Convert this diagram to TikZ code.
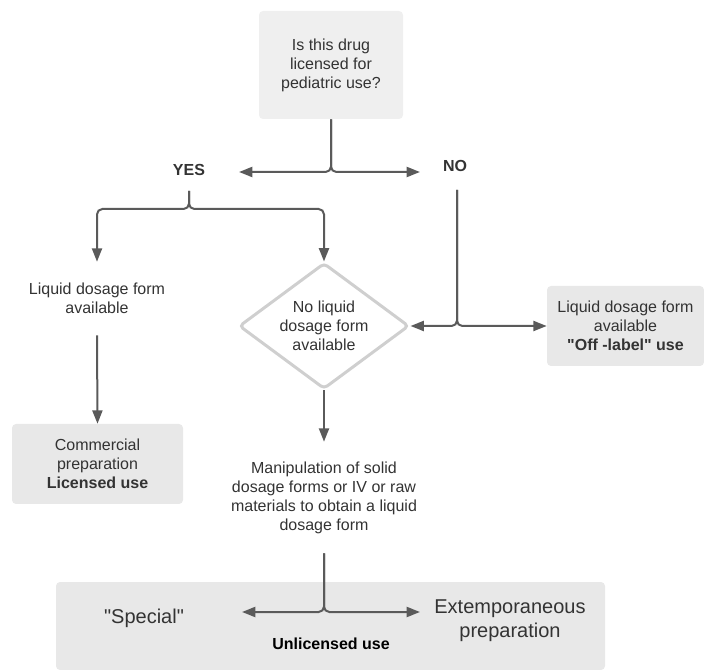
\documentclass[tikz,border=0pt]{standalone}
\usepackage{fontspec}
\setmainfont{Liberation Sans}[Ligatures=TeXOff]
\usetikzlibrary{arrows.meta,shapes.geometric}
\definecolor{ln}{HTML}{5A5A5A}
\definecolor{bx}{HTML}{E8E8E8}
\definecolor{bxl}{HTML}{EFEFEF}
\definecolor{tx}{HTML}{333333}
\definecolor{dg}{HTML}{CFCFCF}
\begin{document}
\begin{tikzpicture}[x=0.75pt,y=-0.75pt,
  txt/.style={font=\fontsize{12}{14.25}\selectfont, text=tx, align=center, inner sep=0pt},
  bold/.style={txt, font=\fontsize{12}{14.25}\selectfont\bfseries},
  big/.style={txt, font=\fontsize{15}{18}\selectfont},
  box/.style={txt, fill=bx, rounded corners=3pt},
  con/.style={draw=ln, line width=1.5pt, rounded corners=4pt},
  arr/.style={con, -{Triangle[length=10pt,width=7.5pt]}},
]
\useasboundingbox (0,0) rectangle (704,670);

% nodes
\node[box, fill=bxl, minimum width=108pt, minimum height=81pt] (q) at (331,65)
  {Is this drug\\licensed for\\pediatric use?};
\node[bold] (yes) at (189,170) {YES};
\node[bold] (no) at (455,166) {NO};
\node[txt, minimum height=54.75pt] (liq) at (97,298.5) {Liquid dosage form\\available};
\node[box, minimum width=128.25pt, minimum height=60pt] (com) at (97.5,464)
  {Commercial\\preparation\\\textbf{Licensed use}};
\node[diamond, draw=dg, line width=2.25pt, rounded corners=3pt, inner sep=0pt,
  minimum width=127.5pt, minimum height=94.5pt] (dia) at (324,326) {};
\node[txt] (dialbl) at (dia.center) {No liquid\\dosage form\\available};
\node[box, minimum width=117.75pt, minimum height=60pt] (off) at (625.5,326)
  {Liquid dosage form\\available\\\textbf{"Off -label" use}};
\node[txt, minimum height=83.25pt] (manip) at (324,497.5)
  {Manipulation of solid\\dosage forms or IV or raw\\materials to obtain a liquid\\dosage form};
\node[box, minimum width=411.75pt, minimum height=66pt] (bot) at (330.5,626) {};
\node[big] (special) at (144,618) {"Special"};
\node[big] (ext) at (510,621) {Extemporaneous\\preparation};
\node[bold, text=black] (unl) at (331,644) {Unlicensed use};

% coordinates
\coordinate (yl) at (239,172);
\coordinate (nr) at (420,172);
\coordinate (ys) at (189,191);
\coordinate (ns) at (457,190);
\coordinate (bl) at (242,612);
\coordinate (br) at (420,612);

% connectors
\draw[arr] (q.south) |- (yl);
\draw[arr] (q.south) |- (nr);
\draw[arr] (ys) -- ++(0,18) -| (liq.north);
\draw[arr] (ys) -- ++(0,18) -| (dia.north);
\draw[arr] (liq.south) -- (com.north);
\draw[arr] (ns) |- (dia.east);
\draw[arr] (ns) |- (off.west);
\draw[arr] (dia.south) -- (manip.north);
\draw[arr] (manip.south) |- (bl);
\draw[arr] (manip.south) |- (br);
\end{tikzpicture}
\end{document}
